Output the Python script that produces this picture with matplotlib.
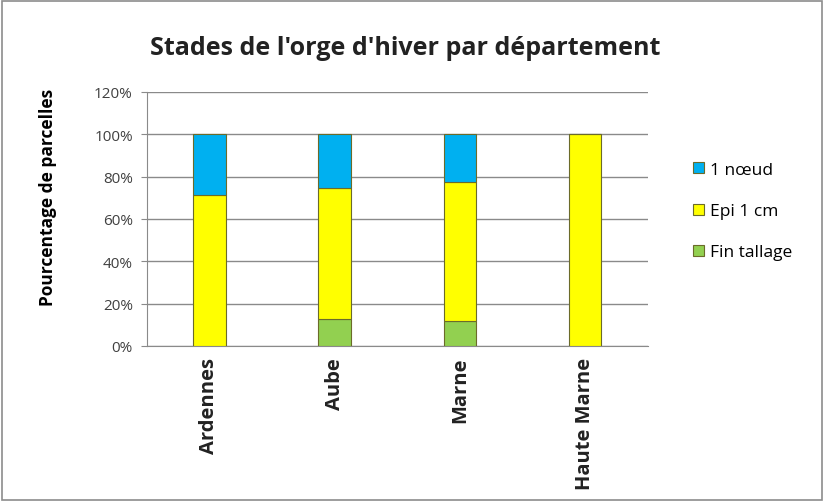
import matplotlib
matplotlib.use("Agg")
import matplotlib.pyplot as plt
from matplotlib.patches import Rectangle
import numpy as np

categories = ["Ardennes", "Aube", "Marne", "Haute Marne"]
fin_tallage = [0.0, 12.7, 11.6, 0.0]
epi_1cm = [71.2, 62.1, 65.9, 100.0]
un_noeud = [28.8, 25.2, 22.5, 0.0]
y_ticks = [0, 20, 40, 60, 80, 100, 120]
y_tick_labels = ["0%", "20%", "40%", "60%", "80%", "100%", "120%"]

plt.rcParams['font.family'] = ['Open Sans', 'DejaVu Sans']

fig = plt.figure(figsize=(8.24, 5.02), dpi=100)
fig.patches.append(Rectangle((0.002, 0.002), 0.996, 0.994, transform=fig.transFigure,
                             fill=False, edgecolor="#8c8c8c", linewidth=1.2))
ax = fig.add_axes([0.178, 0.309, 0.608, 0.506])

x = np.arange(len(categories))
w = 0.26
edge = "#6b6b2a"
b1 = ax.bar(x, fin_tallage, w, color="#92D050", edgecolor=edge, linewidth=0.8, label="Fin tallage", zorder=3)
b2 = ax.bar(x, epi_1cm, w, bottom=fin_tallage, color="#FFFF00", edgecolor=edge, linewidth=0.8, label="Epi 1 cm", zorder=3)
bottom3 = [a + b for a, b in zip(fin_tallage, epi_1cm)]
b3 = ax.bar(x, un_noeud, w, bottom=bottom3, color="#00B0F0", edgecolor=edge, linewidth=0.8, label="1 nœud", zorder=3)

ax.set_xlim(-0.5, len(categories) - 0.5)
ax.set_ylim(0, 120)
ax.set_yticks(y_ticks)
ax.set_yticklabels(y_tick_labels, fontsize=11, color="#404040")
ax.set_xticks(x)
ax.set_xticklabels(categories, rotation=90, fontsize=14.5, fontweight="bold", color="#222222")
ax.grid(axis="y", color="#8a8a8a", linewidth=1.0, zorder=0)
for s in ["top", "right"]:
    ax.spines[s].set_visible(False)
ax.spines["left"].set_color("#8a8a8a")
ax.spines["bottom"].set_color("#8a8a8a")
ax.tick_params(axis="y", length=4, color="#8a8a8a", pad=6)
ax.tick_params(axis="x", length=0, pad=8)
ax.set_ylabel("Pourcentage de parcelles", fontsize=12.5, fontweight="bold")
ax.yaxis.set_label_coords(-0.178, 0.59)

fig.text(0.492, 0.903, "Stades de l'orge d'hiver par département", ha="center", va="center",
         fontsize=18, fontweight="bold", color="#222222")

ax.legend(handles=[b3, b2, b1], loc="center left", bbox_to_anchor=(1.06, 0.53), frameon=False,
          fontsize=12.5, handlelength=0.6, handleheight=0.6, labelspacing=1.45, handletextpad=0.35)

fig.savefig("out.png", dpi=100)
